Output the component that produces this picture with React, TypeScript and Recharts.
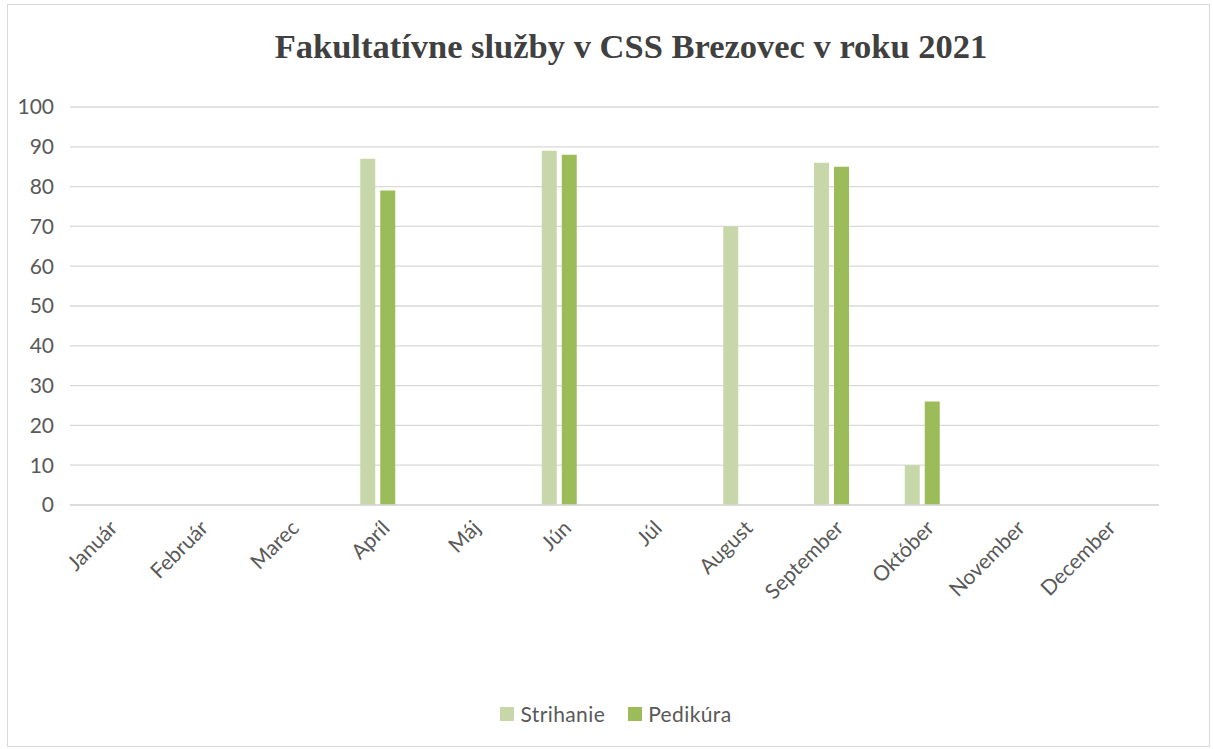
import React from 'react';
import { BarChart, Bar, CartesianGrid, XAxis, YAxis, Legend } from 'recharts';

const months = ['Január', 'Február', 'Marec', 'Apríl', 'Máj', 'Jún', 'Júl', 'August', 'September', 'Október', 'November', 'December'];
const strihanie = [0, 0, 0, 87, 0, 89, 0, 70, 86, 10, 0, 0];
const pedikura = [0, 0, 0, 79, 0, 88, 0, 0, 85, 26, 0, 0];
const yTicks = [0, 10, 20, 30, 40, 50, 60, 70, 80, 90, 100];

const LIGHT = '#C7D7AA';
const DARK = '#9CBB59';
const TEXT = '#595959';
const FONT = 'Lato, "Open Sans", sans-serif';

const data = months.map((m, i) => ({ month: m, strihanie: strihanie[i], pedikura: pedikura[i] }));

const MonthTick = (props: any) => {
  const { x, y, payload } = props;
  return (
    <g transform={`translate(${x + 3},${y + 6})`}>
      <text
        transform='rotate(-45)'
        textAnchor='end'
        dy='0.7em'
        fill={TEXT}
        fontSize={21}
        fontFamily={FONT}
      >
        {payload.value}
      </text>
    </g>
  );
};

const LegendBox = () => (
  <div style={{ display: 'flex', justifyContent: 'center', alignItems: 'center', fontFamily: FONT, fontSize: 21, color: TEXT, letterSpacing: 0.4 }}>
    <span style={{ width: 14, height: 14, background: LIGHT, display: 'inline-block', marginRight: 6 }} />
    <span style={{ marginRight: 23 }}>Strihanie</span>
    <span style={{ width: 14, height: 14, background: DARK, display: 'inline-block', marginRight: 6 }} />
    <span>Pedikúra</span>
  </div>
);

export default function App() {
  return (
    <div
      style={{
        position: 'absolute',
        left: 7,
        top: 4,
        width: 1203,
        height: 743,
        border: '1px solid #D9D9D9',
        boxSizing: 'border-box',
        background: '#fff',
      }}
    >
      <div
        style={{
          position: 'absolute',
          top: 22,
          left: 0,
          width: 1246,
          textAlign: 'center',
          fontFamily: '"Liberation Serif", "Times New Roman", serif',
          fontWeight: 'bold',
          fontSize: 34.5,
          color: '#404040',
        }}
      >
        Fakultatívne služby v CSS Brezovec v roku 2021
      </div>
      <BarChart
        width={1203}
        height={743}
        data={data}
        margin={{ top: 103, right: 51, left: 0, bottom: 142 }}
        barGap={5}
        barSize={15}
        style={{ position: 'absolute', left: -1, top: -1 }}
      >
        <CartesianGrid stroke='#D9D9D9' strokeWidth={1.3} vertical={false} />
        <XAxis
          dataKey='month'
          height={100}
          tickLine={false}
          axisLine={{ stroke: '#D9D9D9', strokeWidth: 1.3 }}
          interval={0}
          padding={{ left: -10, right: 10 }}
          tick={<MonthTick />}
        />
        <YAxis
          width={63}
          domain={[0, 100]}
          ticks={yTicks}
          tickLine={false}
          axisLine={false}
          tickSize={0}
          tickMargin={16}
          tick={{ fill: TEXT, fontSize: 21, fontFamily: FONT }}
        />
        <Legend
          layout='horizontal'
          verticalAlign='middle'
          align='center'
          wrapperStyle={{ top: 697, left: 0, width: 1218 }}
          content={<LegendBox />}
        />
        <Bar dataKey='strihanie' name='Strihanie' fill={LIGHT} isAnimationActive={false} />
        <Bar dataKey='pedikura' name='Pedikúra' fill={DARK} isAnimationActive={false} />
      </BarChart>
    </div>
  );
}
